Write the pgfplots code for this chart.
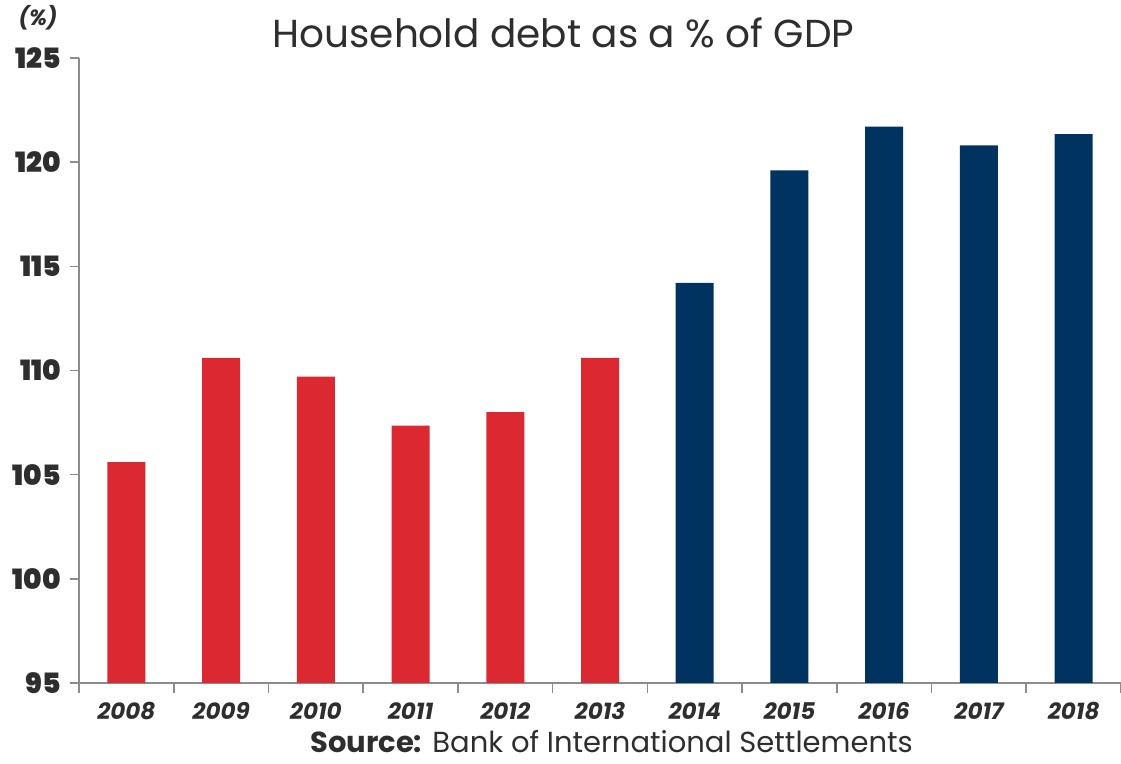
\documentclass[border=0pt]{standalone}
\usepackage{pgfplots}
\pgfplotsset{compat=1.18}
\usepackage{fontspec}
\setmainfont{Poppins}
\newfontfamily\heavy{Poppins Black}
\definecolor{barred}{HTML}{DC2830}
\definecolor{barblue}{HTML}{00335F}
\definecolor{axgray}{HTML}{8C8C8C}
\definecolor{txt}{HTML}{2E2E2E}
\begin{document}
\begin{tikzpicture}[x=1pt,y=1pt]
\path[use as bounding box] (0,0) rectangle (560.5,382);
\begin{axis}[
  at={(39.5pt,40.5pt)}, anchor=south west,
  width=521pt, height=312.5pt, scale only axis,
  xmin=-0.5, xmax=10.5, ymin=95, ymax=125,
  ytick={95,100,...,125},
  xtick={0,...,10},
  xticklabels={2008,2009,2010,2011,2012,2013,2014,2015,2016,2017,2018},
  minor xtick={-0.5,0.5,...,10.5},
  major x tick style={draw=none},
  axis x line*=bottom, axis y line*=left,
  tick align=outside,
  major tick length=4.5pt, minor tick length=5pt,
  axis line style={axgray, line width=0.8pt},
  tick style={axgray, line width=0.8pt},
  /pgf/number format/assume math mode=true,
  yticklabel style={font=\fontsize{14}{14}\selectfont\heavy, text=txt, xshift=-1pt},
  xticklabel style={font=\fontsize{11.5}{11.5}\selectfont\bfseries\itshape, text=txt, anchor=base, yshift=-14pt},
  ybar, bar width=19pt, bar shift=0pt,
]
\addplot[fill=barred, draw=none] coordinates {(0,105.6) (1,110.6) (2,109.7) (3,107.35) (4,108.0) (5,110.6)};
\addplot[fill=barblue, draw=none] coordinates {(6,114.2) (7,119.6) (8,121.7) (9,120.8) (10,121.35)};
\end{axis}
\node[text=txt, font=\fontsize{14.5}{14.5}\selectfont, anchor=base, inner sep=0pt] at (305.75,5.5) {\textbf{Source:} Bank of International Settlements};
\node[text=txt, font=\fontsize{19.5}{19.5}\selectfont] at (281.75,365.5) {Household debt as a \% of GDP};
\node[text=txt, font=\fontsize{11}{11}\selectfont\bfseries\itshape] at (19,373) {(\%)};
\end{tikzpicture}
\end{document}
